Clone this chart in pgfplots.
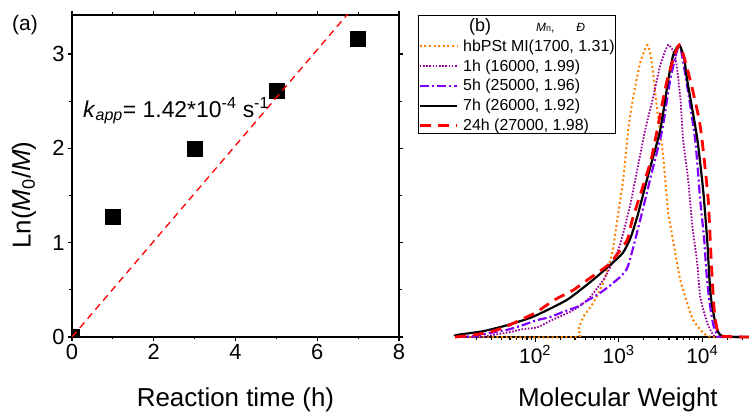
\documentclass[border=0pt]{standalone}
\usepackage{fontspec}
\setmainfont{Liberation Sans}
\usepackage{pgfplots}
\pgfplotsset{compat=1.18}
\definecolor{corange}{RGB}{255,128,0}
\definecolor{cpurple}{RGB}{153,0,153}
\definecolor{cviolet}{RGB}{128,0,255}
\begin{document}
\begin{tikzpicture}
\useasboundingbox (0,0) rectangle (749bp,412bp);
\node[anchor=base west, inner sep=0pt, font=\fontsize{21}{21}\selectfont] at (12bp,381bp) {(a)};
\begin{axis}[
  at={(72bp,75bp)}, anchor=south west,
  width=327bp, height=322bp, scale only axis,
  xmin=0, xmax=8, ymin=0, ymax=3.413,
  xtick={0,2,4,6,8}, ytick={0,1,2,3},
  minor x tick num=1, minor y tick num=1,
  tick align=outside,
  major tick length=4bp, minor tick length=2.5bp,
  every tick/.style={black, line width=1.2bp},
  axis line style={line width=1.6bp},
  /pgf/number format/assume math mode=true,
  tick label style={font=\fontsize{22}{22}\selectfont},
  xlabel={Reaction time (h)},
  ylabel={Ln(\textit{M}\textsubscript{0}/\textit{M})},
  label style={font=\fontsize{26}{26}\selectfont},
  xlabel style={at={(axis description cs:0.5,-0.217)}, anchor=base},
  ylabel style={at={(axis description cs:-0.147,0.441)}, anchor=center},
  clip marker paths=true,
]
\addplot[only marks, mark=square*, mark size=7.5bp, black] coordinates {
  (0,0) (1,1.28) (3,2.0) (5,2.61) (7,3.16)
};
\addplot[red, line width=1.3bp, dash pattern=on 7bp off 5bp] coordinates {
  (0,0) (8,4.06)
};
\node[anchor=base west, inner sep=0pt, font=\fontsize{23}{23}\selectfont] at (axis cs:0.27,2.33)
  {\textit{k}\textsubscript{\textit{app}}= 1.42*10\textsuperscript{-4} s\textsuperscript{-1}};
\end{axis}
\begin{axis}[
  at={(455bp,75bp)}, anchor=south west,
  width=294bp, height=322bp, scale only axis,
  xmode=log, xmin=11, xmax=36300, ymin=0, ymax=1.1027,
  axis x line*=bottom, axis y line=none,
  x axis line style={-, line width=1.6bp},
  xtick={100,1000,10000},
  xticklabels={10\textsuperscript{2},10\textsuperscript{3},10\textsuperscript{4}},
  minor xtick={20,30,40,50,60,70,80,90,200,300,400,500,600,700,800,900,2000,3000,4000,5000,6000,7000,8000,9000,20000,30000},
  tick align=outside,
  major tick length=5bp, minor tick length=3bp,
  every tick/.style={black, line width=1.2bp},
  tick label style={font=\fontsize{21}{21}\selectfont},
  xlabel={Molecular Weight},
  label style={font=\fontsize{26}{26}\selectfont},
  xlabel style={at={(axis description cs:0.554,-0.217)}, anchor=base},
  clip=false,
  legend cell align=left,
  legend style={at={(axis description cs:-0.1259,1)}, anchor=north west,
    draw=black, line width=0.8bp, inner sep=0pt, row sep=4.8bp, column sep=4bp,
    font=\fontsize{16}{16}\selectfont,
    nodes={inner sep=1bp}},
  legend image code/.code={\draw[#1] (0bp,0bp) -- (37bp,0bp);},
]
\addlegendimage{empty legend}
\addlegendentry{\rule[-2bp]{0pt}{17bp}\hspace*{6bp}{\fontsize{18}{18}\selectfont (b)}\hspace*{45bp}{\fontsize{12}{12}\selectfont\textit{M}{\fontsize{9}{9}\selectfont n},}\hspace*{22bp}{\fontsize{12}{12}\selectfont\textit{Đ}}}
% hbPSt MI
\addplot[corange, line width=2bp, dash pattern=on 2bp off 2.6bp, smooth, tension=0.35] table {
x y
11 0
301 0
327 0.024
376 0.068
495 0.116
652 0.185
836 0.288
960 0.40
1132 0.538
1300 0.709
1493 0.822
1807 0.938
2193 1.0
2383 0.973
2588 0.904
2891 0.777
3319 0.651
3606 0.538
3917 0.425
4256 0.366
4753 0.288
5457 0.195
6607 0.116
7800 0.058
10280 0.014
13180 0
36300 0
};
\addlegendentry{hbPSt MI(1700, 1.31)}
% 1h
\addplot[cpurple, line width=1.8bp, dash pattern=on 1.6bp off 1.6bp, smooth, tension=0.35] table {
x y
11 0
21.9 0
31.4 0.007
50.1 0.017
71.8 0.027
106 0.033
151 0.055
216 0.075
318 0.099
456 0.137
689 0.205
986 0.298
1101 0.342
1374 0.452
1667 0.572
2076 0.709
2588 0.822
3141 0.93
3917 1.0
4753 0.96
5457 0.822
5916 0.675
6792 0.538
7586 0.384
8710 0.253
9460 0.137
11480 0.048
13550 0.007
15560 0
36300 0
};
\addlegendentry{1h (16000, 1.99)}
% 5h
\addplot[cviolet, line width=2.2bp, dash pattern=on 9bp off 3bp on 2bp off 3bp, smooth, tension=0.35] table {
x y
11 0
18.2 0.003
28.8 0.014
45.7 0.024
71.8 0.041
106 0.058
151 0.068
216 0.086
318 0.103
397 0.12
600 0.151
859 0.185
1265 0.236
1807 0.40
2450 0.555
3319 0.709
4140 0.88
5309 1.0
6430 0.88
8240 0.675
9460 0.469
10570 0.332
11170 0.229
12130 0.127
13550 0.041
15140 0.007
16440 0
36300 0
};
\addlegendentry{5h (25000, 1.96)}
% 7h
\addplot[black, line width=2.2bp, smooth, tension=0.35] table {
x y
11 0.004
11.6 0.007
24.0 0.02
45.7 0.04
95.5 0.07
240 0.127
490 0.195
794 0.247
1122 0.288
1390 0.34
1700 0.42
2254 0.555
3141 0.709
3917 0.88
4500 0.966
5309 1.0
6080 0.955
6607 0.88
8710 0.68
10280 0.50
11480 0.33
12130 0.21
12820 0.127
14720 0.034
17380 0.003
36300 0
};
\addlegendentry{7h (26000, 1.92)}
% 24h
\addplot[red, line width=2.8bp, dash pattern=on 11bp off 7bp, smooth, tension=0.35] table {
x y
11 0
18.2 0.007
28.8 0.017
43.7 0.034
66.1 0.058
100 0.082
139 0.11
188 0.134
284 0.16
375 0.185
552 0.219
792 0.253
1265 0.332
1452 0.40
2383 0.596
2891 0.709
3811 0.88
5309 1.0
7180 0.88
9200 0.743
10280 0.64
11800 0.469
12470 0.332
13180 0.195
13930 0.092
15140 0.024
17380 0.003
36300 0
};
\addlegendentry{24h (27000, 1.98)}
\end{axis}
\end{tikzpicture}
\end{document}
